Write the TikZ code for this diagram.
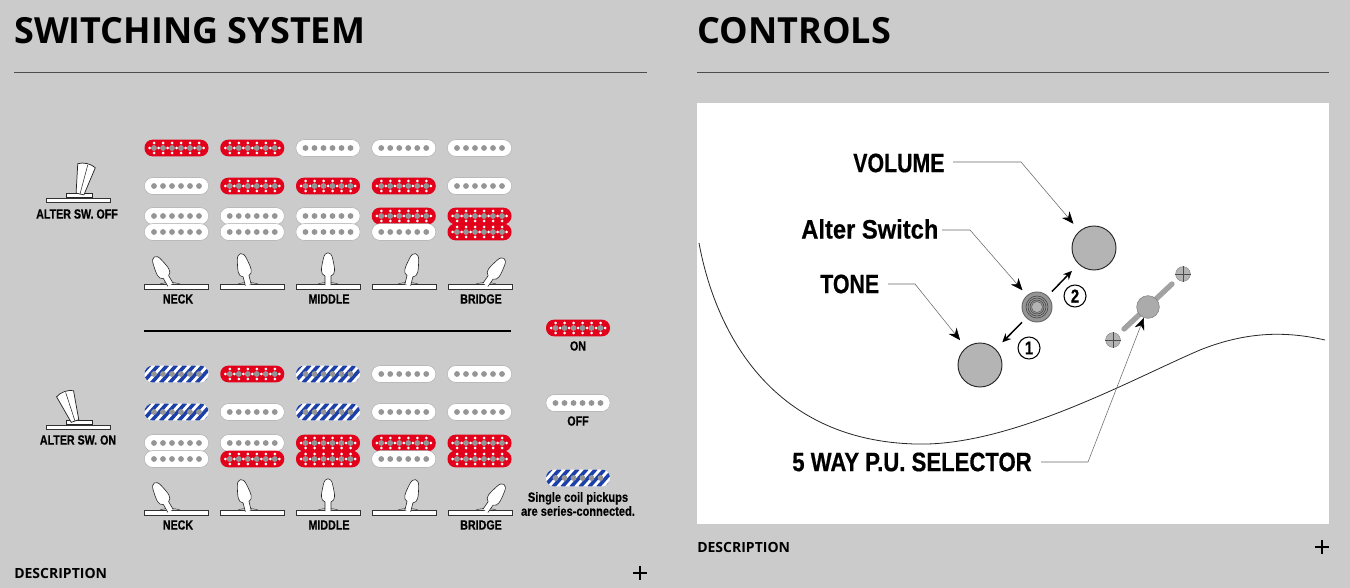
\documentclass[tikz,border=0pt]{standalone}
\usepackage{fontspec}
\usetikzlibrary{arrows.meta}
\newfontfamily\titlefont{Open Sans}
\newfontfamily\condfont[FakeStretch=0.8,BoldFeatures={FakeBold=0.5}]{Liberation Sans}
\newfontfamily\selfont[FakeStretch=0.83,BoldFeatures={FakeBold=0.5}]{Liberation Sans}
\newfontfamily\mixfont[FakeStretch=0.89,BoldFeatures={FakeBold=0.5}]{Liberation Sans}
\definecolor{panelgray}{HTML}{CBCBCB}
\definecolor{polegray}{HTML}{959595}
\definecolor{pured}{HTML}{E2001A}
\definecolor{publue}{HTML}{1C3FA8}
\definecolor{knobgray}{HTML}{B4B4B4}
\newcommand{\polerow}{\foreach \k in {-22.5,-13.5,...,22.5} \fill[polegray] (\k,0) circle (2.9);}
\tikzset{
  pubase/.style={rectangle, rounded corners=6pt, minimum width=48pt, minimum height=12.5pt, inner sep=0pt},
  puoff/.style={pubase, draw=gray!70, line width=.3pt, fill=white,
    path picture={\begin{scope}[shift={(path picture bounding box.center)}]\polerow\end{scope}}},
  puon/.style={pubase, fill=pured,
    path picture={\begin{scope}[shift={(path picture bounding box.center)}]
      \foreach \k in {-27,-18,...,27} \fill[white] (\k,0) circle (1.5);
      \foreach \k in {-22.5,-13.5,...,22.5} {\fill[white] (\k,-5) circle (1.5); \fill[white] (\k,5) circle (1.5);}
      \polerow
    \end{scope}}},
  puser/.style={pubase, fill=white,
    path picture={\begin{scope}[shift={(path picture bounding box.center)}]
      \foreach \k in {-44,-35,...,46} \draw[publue, line width=2.7pt] (\k-8,9) -- (\k+8,-9);
      \polerow
    \end{scope}}},
  plate/.style={rectangle, draw=black!80, line width=.5pt, fill=white, minimum width=48pt, minimum height=3.6pt, inner sep=0pt},
  swlabel/.style={font=\condfont\bfseries\fontsize{10}{10.5}\selectfont, inner sep=0pt, align=center},
  ctrllabel/.style={font=\condfont\bfseries\fontsize{20}{22}\selectfont, inner sep=0pt, anchor=west},
  heading/.style={font=\titlefont\bfseries\fontsize{27}{30}\selectfont, inner sep=0pt, anchor=west},
  desclabel/.style={font=\titlefont\bfseries\fontsize{10.5}{12}\selectfont, inner sep=0pt, anchor=west},
  knob/.style={circle, draw=black!85, line width=.7pt, fill=knobgray, inner sep=0pt},
  leader/.style={draw=black!60, line width=.4pt, -{Stealth[length=9pt,width=7.5pt,black]}},
  movearrow/.style={draw=black, line width=1.1pt, -{Stealth[length=6.5pt,width=6pt]}},
  numcircle/.style={circle, draw=black, line width=.8pt, fill=white, minimum size=16.5pt, inner sep=0pt, font=\condfont\bfseries\fontsize{14}{14}\selectfont},
}
% small toggle standing on its plate: x, plate y, lean, foot x
\newcommand{\smalltoggle}[4]{
  \draw[black!85, line width=.3pt] (#4-10,#2-3) .. controls (#4-5,#2-5) and (#4+5,#2-5) .. (#4+10,#2-3);
  \node[plate] (plate-#1-#2) at (#1,#2) {};
  \begin{scope}[shift={(#4,#2-3)}, rotate=#3]
    \draw[black!85, line width=.45pt, fill=white] (-3,1) -- (-3,-8) .. controls (-8,-10) and (-7,-15) .. (-4.5,-26)
      .. controls (-3,-33) and (3,-33) .. (4.5,-26) .. controls (7,-15) and (8,-10) .. (3,-8) -- (3,1);
  \end{scope}
}
% big alter switch lever
\newcommand{\bigtoggle}[4]{
  \node[plate, minimum height=3pt] (plate-#1-#2) at (#1,#2) {};
  \draw[black!85, line width=.45pt, fill=white] (#1-12,#2-3) rectangle (#1+14,#2-7);
  \begin{scope}[shift={(#4,#2-6)}, rotate=#3]
    \draw[black!85, line width=.55pt, fill=white] (-4,0) -- (-9,-29) .. controls (-4,-32) and (4,-32) .. (9,-29) -- (4,0) -- cycle;
    \draw[black!85, line width=.4pt] (0,0) -- (1,-30);
  \end{scope}
}
\begin{document}
\begin{tikzpicture}[x=.75pt, y=-.75pt]
  \useasboundingbox (0,0) rectangle (1350,588);
  \fill[panelgray] (0,0) rectangle (1350,588);
  % headings
  \node[heading] (swtitle) at (14,31) {SWITCHING SYSTEM};
  \node[heading] (ctrltitle) at (697,31) {CONTROLS};
  \draw[black!70, line width=.5pt] (14,72) -- (647,72);
  \draw[black!70, line width=.5pt] (697,72) -- (1329,72);
  % pickups
  \foreach \yy/\kinds in {148/{on,on,off,off,off}, 186/{off,on,on,on,off},
      216/{off,off,off,on,on}, 232/{off,off,off,off,on},
      374/{ser,on,ser,off,off}, 412/{ser,off,ser,off,off},
      443/{off,off,on,on,on}, 459/{off,on,on,off,on}} {
    \foreach \kind [count=\col from 0] in \kinds
      \node[pu\kind] (pu-\yy-\col) at ({176.5+75.75*\col},\yy) {};
  }
  % toggles
  \foreach \py/\ly in {287/299, 513/525} {
    \smalltoggle{176}{\py}{30}{170}
    \smalltoggle{252}{\py}{14}{248}
    \smalltoggle{328}{\py}{0}{328}
    \smalltoggle{404}{\py}{-14}{408}
    \smalltoggle{480}{\py}{-35}{486}
    \node[swlabel] (neck-\py) at (178,\ly) {NECK};
    \node[swlabel] (middle-\py) at (329,\ly) {MIDDLE};
    \node[swlabel] (bridge-\py) at (481,\ly) {BRIDGE};
  }
  \bigtoggle{78}{200}{-13}{80}
  \bigtoggle{78}{427}{20}{75}
  \node[swlabel] (altoff) at (77,214) {ALTER SW. OFF};
  \node[swlabel] (alton) at (78,440) {ALTER SW. ON};
  \draw[black, line width=.8pt] (144,331) -- (511,331);
  % legend
  \node[puon] (legon) at (578,328) {};
  \node[puoff] (legoff) at (578,403) {};
  \node[puser] (legser) at (578,478) {};
  \node[swlabel] (legonl) at (578,346) {ON};
  \node[swlabel] (legoffl) at (578,421) {OFF};
  \node[swlabel, font=\selfont\bfseries\fontsize{10}{10.5}\selectfont] (legserl) at (578,504) {Single coil pickups\\are series-connected.};
  % controls panel
  \fill[white] (697,103) rectangle (1329,524);
  \draw[black!85, line width=.6pt] (699,243) .. controls (715,330) and (770,440) .. (915,444)
    .. controls (1010,447) and (1130,380) .. (1200,350) .. controls (1250,330) and (1290,332) .. (1325,340);
  \node[knob, minimum size=33pt] (knobvol) at (1094,248) {};
  \node[knob, minimum size=33pt] (knobtone) at (980,365) {};
  \node[knob, minimum size=22.5pt, fill=polegray, draw=black!60] (knobalt) at (1037,307) {};
  \foreach \r in {11,9,7}
    \draw[black!75, line width=.4pt] (knobalt.center) circle (\r);
  \fill[knobgray, draw=black!70, line width=.3pt] (knobalt.center) circle (5.5);
  % selector
  \node[knob, minimum size=11pt, draw=black!45, line width=.4pt] (screwa) at (1183,274) {};
  \node[knob, minimum size=11pt, draw=black!45, line width=.4pt] (screwb) at (1113,340) {};
  \foreach \s in {screwa,screwb} {
    \draw[black!70, line width=.3pt] (\s.north) -- (\s.south);
    \draw[black!70, line width=.3pt] (\s.west) -- (\s.east);
  }
  \coordinate (barlow) at (1124,329);
  \coordinate (barhigh) at (1172,284);
  \draw[knobgray!90!black, line width=4pt, line cap=round] (barlow) -- (barhigh);
  \node[knob, minimum size=17pt, fill=knobgray!95!black, draw=black!50, line width=.4pt] (selector) at (1148,307) {};
  % labels
  \node[ctrllabel] (lblvol) at (853,163) {VOLUME};
  \node[ctrllabel, font=\mixfont\bfseries\fontsize{20}{22}\selectfont] (lblalt) at (801,229) {Alter Switch};
  \node[ctrllabel] (lbltone) at (820,284) {TONE};
  \node[ctrllabel, font=\selfont\bfseries\fontsize{20}{22}\selectfont] (lblsel) at (792,462) {5 WAY P.U. SELECTOR};
  \draw[leader, shorten >=7pt] (953,162) -- (1021,162) -- (knobvol);
  \draw[leader, shorten >=5pt] (942,230) -- (970,230) -- (knobalt);
  \draw[leader, shorten >=7pt] (888,284) -- (915,284) -- (knobtone);
  \draw[leader] (1041,462) -- (1088,462) -- (selector);
  \draw[movearrow, shorten <=4.5pt, shorten >=7pt] (knobalt) -- (knobvol);
  \draw[movearrow, shorten <=4.5pt, shorten >=7pt] (knobalt) -- (knobtone);
  \node[numcircle] (numone) at (1029,348) {1};
  \node[numcircle] (numtwo) at (1075,296) {2};
  % description bars
  \node[desclabel] (descl) at (14,573) {DESCRIPTION};
  \node[desclabel] (descr) at (697,547) {DESCRIPTION};
  \draw[black, line width=1pt] (640,566) -- (640,580) (633,573) -- (647,573);
  \draw[black, line width=1pt] (1322,540) -- (1322,554) (1315,547) -- (1329,547);
\end{tikzpicture}
\end{document}
